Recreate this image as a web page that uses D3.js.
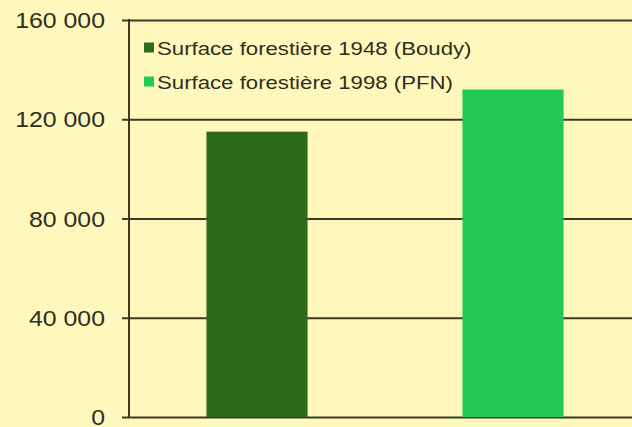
<!DOCTYPE html>
<html><head><meta charset="utf-8">
<script src="https://cdnjs.cloudflare.com/ajax/libs/d3/7.8.5/d3.min.js"></script>
<style>html,body{margin:0;padding:0;background:#FFF8BC;}svg{display:block;}</style>
</head><body>
<svg id="c" width="632" height="427"></svg>
<script>
const categories = ["1948", "1998"];
const series = ["Surface forestière 1948 (Boudy)", "Surface forestière 1998 (PFN)"];
const values = [115000, 132000];
const colors = ["#2E6A1E", "#22C955"];
const yTicks = [0, 40000, 80000, 120000, 160000];
const yTickLabels = ["0", "40 000", "80 000", "120 000", "160 000"];

const svg = d3.select("#c");
const W = 632, H = 427;
const axisX = 129, plotRight = 641;
svg.append("rect").attr("width", W).attr("height", H).attr("fill", "#FFF8BC");

const y = d3.scaleLinear().domain([0, 160000]).range([417, 20]);
const x = d3.scaleBand().domain(categories).range([axisX, plotRight])
  .paddingInner(0.605).paddingOuter(0.3025);

const lineCol = "#3b3a28";
const yAxis = d3.axisLeft(y).tickValues(yTicks).tickSize(-(W - axisX)).tickFormat("");
const g = svg.append("g").attr("transform", `translate(${axisX},0)`).call(yAxis);
g.select(".domain").remove();
g.selectAll(".tick line").attr("stroke", lineCol).attr("stroke-width", 2).attr("x1", -7);

svg.append("g").selectAll("text").data(yTicks).join("text")
  .attr("transform", d => `translate(105,${y(d) + 8}) scale(1.13,1)`)
  .attr("text-anchor", "end")
  .attr("font-family", "Liberation Sans, Arial, sans-serif")
  .attr("font-size", 22).attr("fill", "#2e2e22")
  .text((d, i) => yTickLabels[i]);

svg.append("g").selectAll("rect").data(values).join("rect")
  .attr("x", (d, i) => x(categories[i]))
  .attr("width", x.bandwidth())
  .attr("y", d => y(d))
  .attr("height", d => y(0) - y(d))
  .attr("fill", (d, i) => colors[i]);

svg.append("line").attr("x1", axisX).attr("x2", axisX).attr("y1", y(160000) - 1).attr("y2", y(0) + 1)
  .attr("stroke", lineCol).attr("stroke-width", 2);

const leg = svg.append("g");
series.forEach((s, i) => {
  const cy = 47.5 + i * 34;
  leg.append("rect").attr("x", 144).attr("y", cy - 5).attr("width", 10).attr("height", 10).attr("fill", colors[i]);
  leg.append("text")
    .attr("transform", `translate(157,${cy + 7}) scale(1.2,1)`)
    .attr("font-family", "Liberation Sans, Arial, sans-serif")
    .attr("font-size", 18.5).attr("fill", "#2e2e22")
    .text(s);
});
</script>
</body></html>
